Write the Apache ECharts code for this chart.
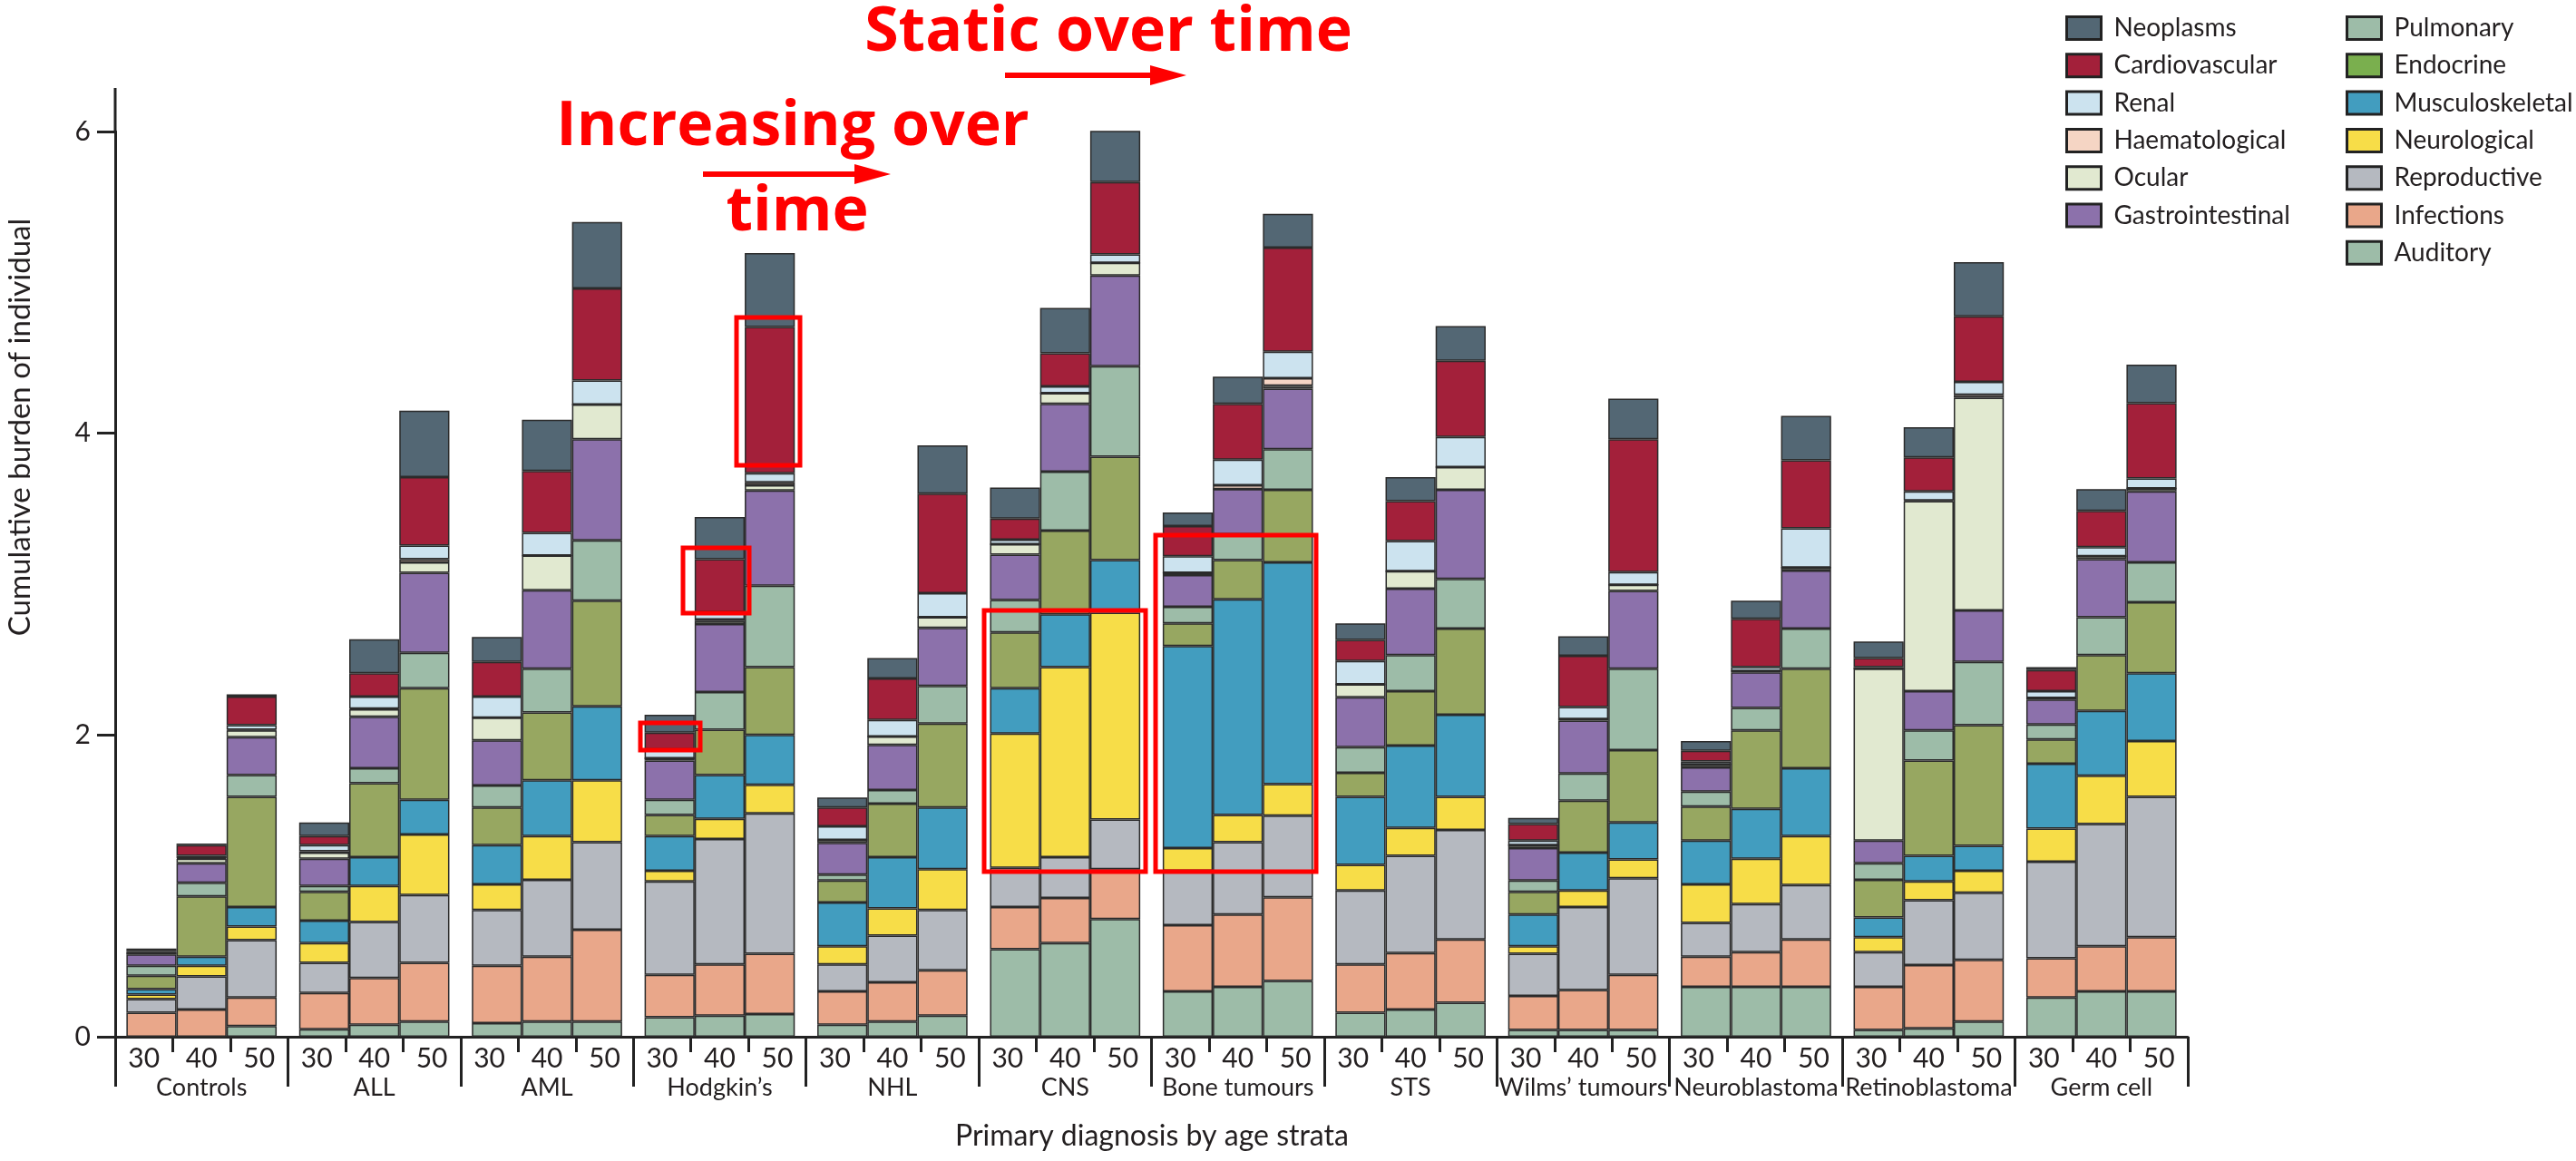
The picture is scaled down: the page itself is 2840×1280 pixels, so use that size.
<!DOCTYPE html>
<html>
<head>
<meta charset="utf-8">
<title>Cumulative burden by primary diagnosis and age</title>
<script src="https://cdn.jsdelivr.net/npm/echarts@6/dist/echarts.min.js"></script>
<style>
  html, body { margin: 0; padding: 0; background: #ffffff; }
  #chart { width: 2840px; height: 1280px; }
</style>
</head>
<body>
<div id="chart"></div>
<script>
// Diagnosis groups and the three age strata drawn inside each group
const groups = ['Controls', 'ALL', 'AML', 'Hodgkin\u2019s', 'NHL', 'CNS', 'Bone tumours', 'STS',
  'Wilms\u2019 tumours', 'Neuroblastoma', 'Retinoblastoma', 'Germ cell'];
const ages = ['30', '40', '50'];
const yTicks = [0, 2, 4, 6];

// Mean cumulative burden per condition group; 36 values each, ordered group by group (age 30, 40, 50)
const auditory = [0, 0, 0.07, 0.05, 0.08, 0.1, 0.09, 0.1, 0.1, 0.13, 0.14, 0.15, 0.08, 0.1, 0.14, 0.58, 0.62, 0.78,
  0.3, 0.33, 0.37, 0.16, 0.18, 0.225, 0.045, 0.045, 0.045, 0.33, 0.33, 0.33, 0.045, 0.055, 0.1, 0.26, 0.3, 0.3];
const infections = [0.16, 0.18, 0.19, 0.24, 0.31, 0.39, 0.38, 0.43, 0.61, 0.28, 0.34, 0.4, 0.22, 0.26, 0.3, 0.28, 0.3, 0.33,
  0.44, 0.48, 0.555, 0.32, 0.375, 0.42, 0.225, 0.265, 0.365, 0.2, 0.23, 0.315, 0.285, 0.42, 0.41, 0.26, 0.3, 0.36];
const reproductive = [0.09, 0.22, 0.38, 0.2, 0.37, 0.45, 0.37, 0.51, 0.58, 0.62, 0.83, 0.93, 0.18, 0.31, 0.4, 0.26, 0.27, 0.33,
  0.36, 0.48, 0.54, 0.49, 0.645, 0.725, 0.28, 0.55, 0.64, 0.225, 0.32, 0.36, 0.23, 0.43, 0.445, 0.64, 0.81, 0.93];
const neurological = [0.03, 0.07, 0.09, 0.13, 0.24, 0.4, 0.17, 0.29, 0.41, 0.07, 0.135, 0.19, 0.12, 0.18, 0.27, 0.89, 1.26, 1.37,
  0.15, 0.18, 0.21, 0.17, 0.185, 0.22, 0.05, 0.11, 0.125, 0.255, 0.3, 0.325, 0.1, 0.125, 0.145, 0.22, 0.32, 0.37];
const musculoskeletal = [0.035, 0.06, 0.13, 0.15, 0.19, 0.23, 0.26, 0.37, 0.49, 0.23, 0.29, 0.33, 0.29, 0.34, 0.41, 0.3, 0.35, 0.35,
  1.34, 1.43, 1.47, 0.45, 0.545, 0.545, 0.21, 0.25, 0.245, 0.29, 0.33, 0.45, 0.13, 0.17, 0.165, 0.43, 0.43, 0.45];
const endocrine = [0.09, 0.4, 0.73, 0.19, 0.49, 0.74, 0.25, 0.45, 0.7, 0.14, 0.3, 0.45, 0.145, 0.355, 0.555, 0.37, 0.555, 0.685,
  0.15, 0.26, 0.48, 0.16, 0.36, 0.57, 0.15, 0.345, 0.48, 0.225, 0.52, 0.66, 0.25, 0.63, 0.8, 0.16, 0.37, 0.47];
const pulmonary = [0.065, 0.09, 0.145, 0.04, 0.1, 0.235, 0.145, 0.29, 0.4, 0.1, 0.25, 0.54, 0.04, 0.09, 0.25, 0.215, 0.39, 0.6,
  0.11, 0.17, 0.27, 0.17, 0.24, 0.33, 0.075, 0.18, 0.54, 0.1, 0.15, 0.265, 0.11, 0.2, 0.42, 0.1, 0.25, 0.265];
const gastrointestinal = [0.075, 0.13, 0.25, 0.18, 0.34, 0.53, 0.3, 0.52, 0.67, 0.26, 0.45, 0.63, 0.21, 0.3, 0.385, 0.3, 0.45, 0.6,
  0.21, 0.3, 0.4, 0.33, 0.44, 0.59, 0.215, 0.35, 0.515, 0.16, 0.235, 0.385, 0.15, 0.26, 0.34, 0.165, 0.385, 0.47];
const ocular = [0.01, 0.03, 0.045, 0.04, 0.05, 0.07, 0.15, 0.23, 0.23, 0.015, 0.02, 0.035, 0.02, 0.055, 0.07, 0.07, 0.07, 0.085,
  0.015, 0, 0.02, 0.085, 0.115, 0.15, 0.02, 0.01, 0.04, 0.02, 0.01, 0.02, 1.14, 1.26, 1.41, 0.01, 0.02, 0.02];
const haematological = [0, 0.005, 0.005, 0.01, 0.005, 0.02, 0, 0, 0, 0, 0.01, 0.02, 0, 0, 0, 0, 0, 0,
  0, 0.025, 0.05, 0, 0, 0, 0, 0, 0, 0, 0, 0, 0, 0.005, 0.02, 0, 0, 0];
const renal = [0.005, 0.015, 0.03, 0.04, 0.08, 0.09, 0.14, 0.15, 0.16, 0.06, 0.05, 0.06, 0.09, 0.11, 0.16, 0.03, 0.045, 0.055,
  0.11, 0.17, 0.175, 0.155, 0.2, 0.2, 0.03, 0.08, 0.085, 0.02, 0.025, 0.26, 0.01, 0.06, 0.085, 0.045, 0.06, 0.065];
const cardiovascular = [0.01, 0.07, 0.19, 0.06, 0.155, 0.455, 0.23, 0.41, 0.61, 0.11, 0.35, 0.97, 0.125, 0.275, 0.66, 0.14, 0.22, 0.48,
  0.2, 0.37, 0.69, 0.14, 0.265, 0.505, 0.11, 0.34, 0.88, 0.07, 0.32, 0.45, 0.06, 0.225, 0.435, 0.14, 0.24, 0.5];
const neoplasms = [0.015, 0.01, 0.015, 0.09, 0.225, 0.44, 0.165, 0.34, 0.44, 0.12, 0.28, 0.49, 0.065, 0.135, 0.32, 0.205, 0.3, 0.38,
  0.09, 0.18, 0.225, 0.11, 0.16, 0.23, 0.04, 0.13, 0.27, 0.065, 0.12, 0.295, 0.11, 0.2, 0.36, 0.02, 0.145, 0.255];

// Stack order, bottom to top
const layers = [
  { name: 'Auditory', values: auditory, color: '#9dbca8' },
  { name: 'Infections', values: infections, color: '#e9a78a' },
  { name: 'Reproductive', values: reproductive, color: '#b5b9c0' },
  { name: 'Neurological', values: neurological, color: '#f7dd48' },
  { name: 'Musculoskeletal', values: musculoskeletal, color: '#429dbf' },
  { name: 'Endocrine', values: endocrine, color: '#97a761' },
  { name: 'Pulmonary', values: pulmonary, color: '#9dbca8' },
  { name: 'Gastrointestinal', values: gastrointestinal, color: '#8c71ab' },
  { name: 'Ocular', values: ocular, color: '#e1e9d0' },
  { name: 'Haematological', values: haematological, color: '#f5d5c4' },
  { name: 'Renal', values: renal, color: '#cce3ef' },
  { name: 'Cardiovascular', values: cardiovascular, color: '#a3203a' },
  { name: 'Neoplasms', values: neoplasms, color: '#536774' }
];

const legendLeft = ['Neoplasms', 'Cardiovascular', 'Renal', 'Haematological', 'Ocular', 'Gastrointestinal'];
const legendRight = ['Pulmonary', 'Endocrine', 'Musculoskeletal', 'Neurological', 'Reproductive', 'Infections', 'Auditory'];

const FONT = 'Lato, "Noto Sans", sans-serif';
const INK = '#231f20';

// One stack per age stratum; the three stacks sit side by side in each group
const series = [];
ages.forEach(function (age, a) {
  layers.forEach(function (layer) {
    series.push({
      type: 'bar',
      name: layer.name,
      stack: 'age' + age,
      xAxisIndex: 0,
      yAxisIndex: 0,
      barGap: '0%',
      barCategoryGap: '13%',
      data: groups.map(function (g, gi) { return layer.values[gi * 3 + a]; }),
      itemStyle: { color: layer.color, borderColor: '#2b2b2b', borderWidth: 1.5 },
      emphasis: { disabled: true }
    });
  });
});

// Age labels underneath every bar
const ageLabels = [];
groups.forEach(function () { ages.forEach(function (a) { ageLabels.push(a); }); });

function legendBlock(names, left) {
  return {
    orient: 'vertical',
    left: left,
    top: 12,
    itemWidth: 38,
    itemHeight: 25,
    itemGap: 13.3,
    selectedMode: false,
    icon: 'rect',
    itemStyle: { borderColor: '#222', borderWidth: 3 },
    textStyle: { fontFamily: FONT, fontSize: 28, color: INK, padding: [0, 0, 0, 9] },
    data: names.map(function (n) {
      if (n === 'Endocrine') return { name: n, itemStyle: { color: '#7aaf4e' } };
      return { name: n };
    })
  };
}

function arrow(x1, x2, y) {
  return [
    { type: 'line', shape: { x1: x1, y1: y, x2: x2 - 30, y2: y }, style: { stroke: '#ff0000', lineWidth: 6 } },
    { type: 'polygon', shape: { points: [[x2 - 40, y - 11], [x2, y], [x2 - 40, y + 11]] }, style: { fill: '#ff0000' } }
  ];
}

function box(x, y, w, h) {
  return { type: 'rect', shape: { x: x, y: y, width: w, height: h }, style: { fill: 'none', stroke: '#ff0000', lineWidth: 5 }, z: 100 };
}

const redText = { fontFamily: '"Open Sans", sans-serif', fontWeight: 'bold', fontSize: 68, fill: '#ff0000' };

const chart = echarts.init(document.getElementById('chart'), null, { renderer: 'canvas' });
chart.setOption({
  animation: false,
  backgroundColor: '#ffffff',
  grid: { left: 127, right: 428, top: 145, bottom: 137, containLabel: false },
  legend: [legendBlock(legendLeft, 2272), legendBlock(legendRight, 2581)],
  xAxis: [
    {
      type: 'category',
      data: groups,
      position: 'bottom',
      axisLine: { show: true, lineStyle: { color: '#222', width: 3 } },
      axisTick: { show: true, length: 55, lineStyle: { color: '#222', width: 3 } },
      axisLabel: { margin: 43, fontFamily: FONT, fontSize: 27, color: INK, interval: 0 },
      splitLine: { show: false }
    },
    {
      type: 'category',
      data: ageLabels,
      position: 'bottom',
      axisLine: { show: false },
      axisTick: {
        show: true, length: 17, lineStyle: { color: '#222', width: 3 },
        interval: function (i) { return i % 3 !== 0; }
      },
      axisLabel: { margin: 9, fontFamily: FONT, fontSize: 30, color: INK, interval: 0 },
      splitLine: { show: false }
    }
  ],
  yAxis: {
    type: 'value',
    min: 0,
    max: 6,
    interval: 2,
    axisLine: { show: true, lineStyle: { color: '#222', width: 3 } },
    axisTick: { show: true, length: 20, lineStyle: { color: '#222', width: 3 } },
    axisLabel: {
      margin: 27, fontFamily: FONT, fontSize: 30, color: INK,
      formatter: function (v) { return yTicks.indexOf(v) >= 0 ? String(v) : ''; }
    },
    splitLine: { show: false }
  },
  series: series,
  graphic: [
    // axis line continues a little above the top tick
    { type: 'line', shape: { x1: 127, y1: 97, x2: 127, y2: 146 }, style: { stroke: '#222', lineWidth: 3 } },
    { type: 'text', x: 22, y: 471, rotation: Math.PI / 2,
      style: { text: 'Cumulative burden of individual', fontFamily: FONT, fontSize: 33, fill: INK, align: 'center', verticalAlign: 'middle' } },
    { type: 'text', x: 1270, y: 1253,
      style: { text: 'Primary diagnosis by age strata', fontFamily: FONT, fontSize: 32, fill: INK, align: 'center', verticalAlign: 'middle' } },
    { type: 'text', x: 1222, y: 37, style: Object.assign({ text: 'Static over time', align: 'center', verticalAlign: 'middle' }, redText) },
    { type: 'text', x: 874, y: 141, style: Object.assign({ text: 'Increasing over', align: 'center', verticalAlign: 'middle' }, redText) },
    { type: 'text', x: 879, y: 235, style: Object.assign({ text: 'time', align: 'center', verticalAlign: 'middle' }, redText) }
  ].concat(arrow(1108, 1308, 83), arrow(775, 982, 192), [
    box(706, 797, 66, 30),
    box(753, 604, 73, 72),
    box(812, 350, 70, 163),
    box(1085, 673, 178, 288),
    box(1274, 590, 177, 371)
  ])
});
</script>
</body>
</html>
